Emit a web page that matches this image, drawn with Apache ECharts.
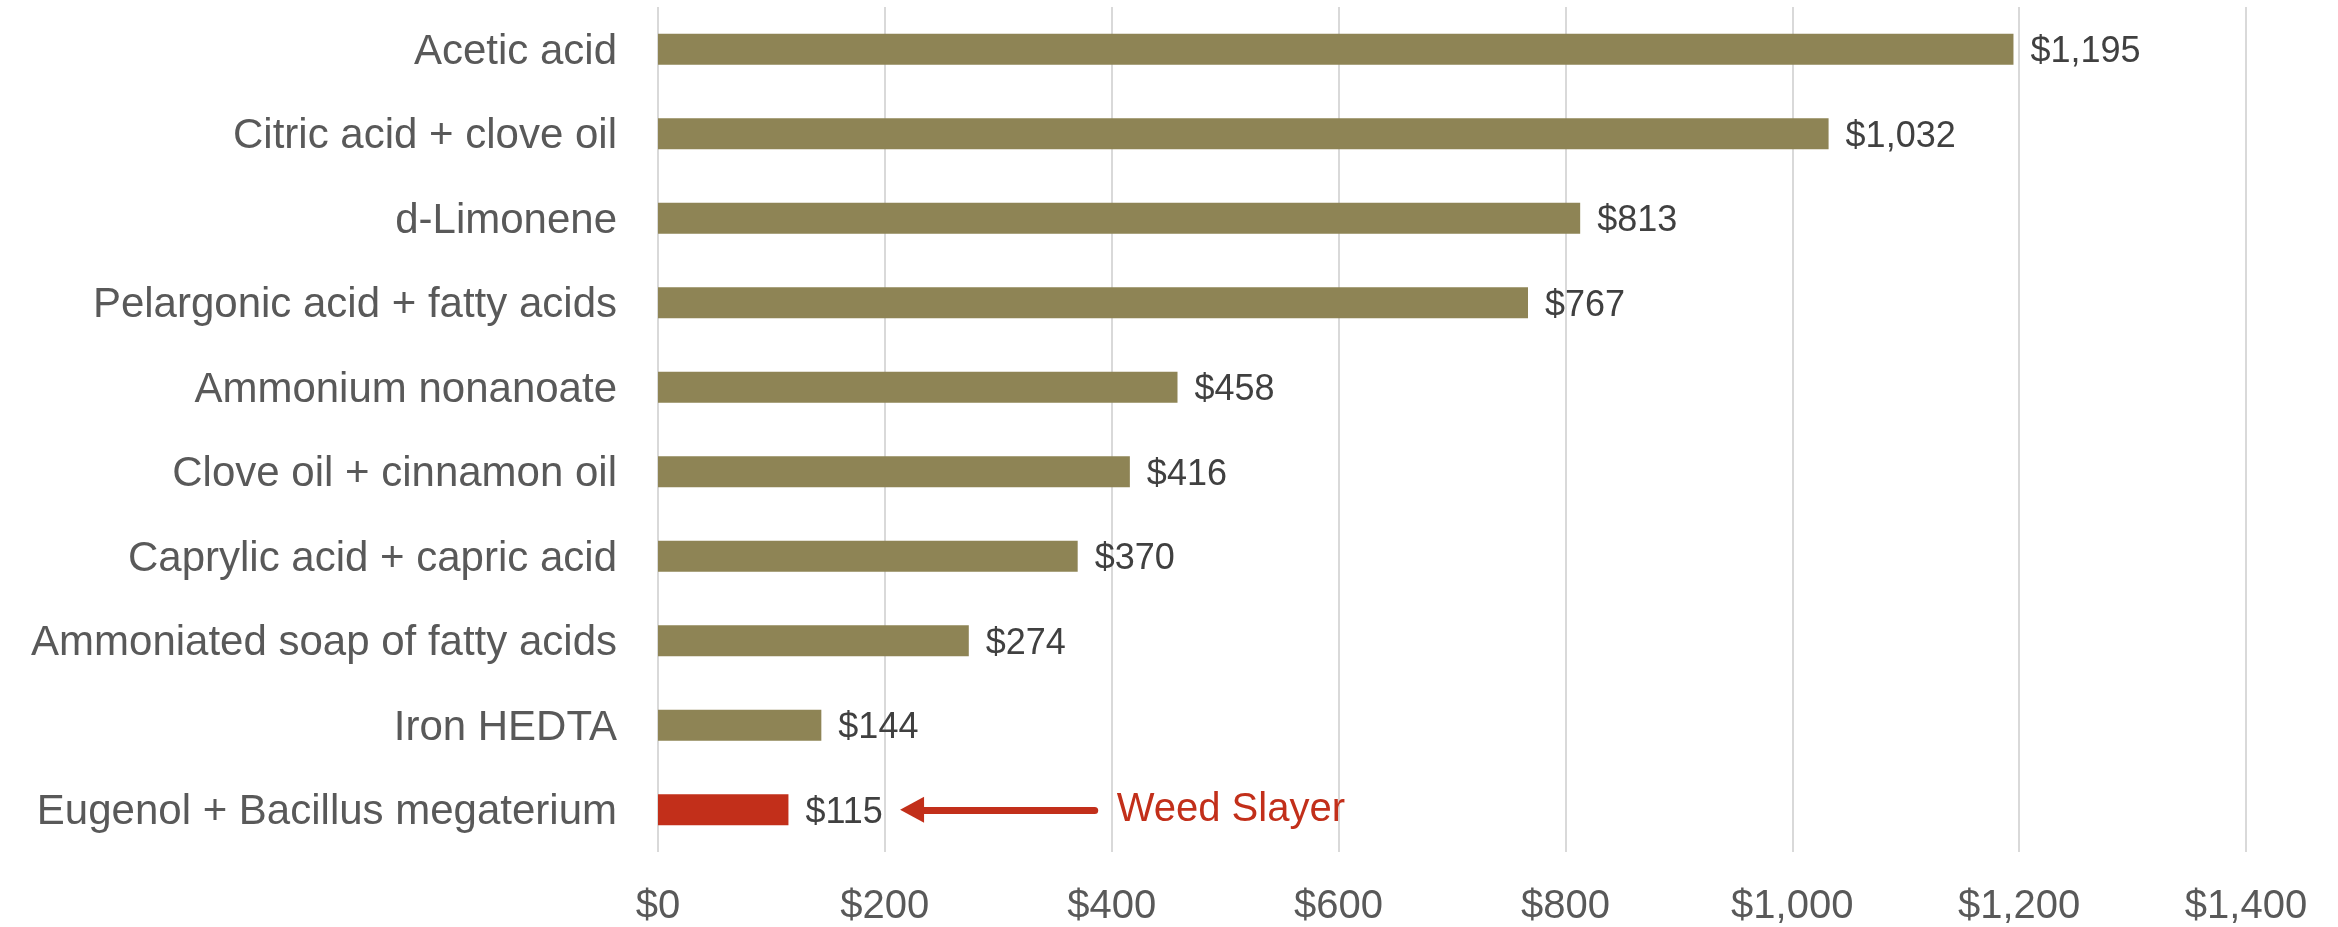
<!DOCTYPE html>
<html>
<head>
<meta charset="utf-8">
<script src="https://cdn.jsdelivr.net/npm/echarts@6/dist/echarts.min.js"></script>
<style>
html,body{margin:0;padding:0;background:#fff;}
#chart{width:2338px;height:927px;}
</style>
</head>
<body>
<div id="chart"></div>
<script>
const categories = [
  "Acetic acid",
  "Citric acid + clove oil",
  "d-Limonene",
  "Pelargonic acid + fatty acids",
  "Ammonium nonanoate",
  "Clove oil + cinnamon oil",
  "Caprylic acid + capric acid",
  "Ammoniated soap of fatty acids",
  "Iron HEDTA",
  "Eugenol + Bacillus megaterium"
];
const costs = [1195, 1032, 813, 767, 458, 416, 370, 274, 144, 115];
const highlightCategory = "Eugenol + Bacillus megaterium";
const annotationText = "Weed Slayer";
const arrowFrom = 385;
const arrowTo = 224;
const axisMin = 0, axisMax = 1400, axisStep = 200;

const FONT = '"Liberation Sans", Arial, sans-serif';
const OLIVE = '#8E8455';
const RED = '#C22F1A';

const fmt = v => '$' + Number(v).toLocaleString('en-US');

const chart = echarts.init(document.getElementById('chart'), null, {renderer: 'canvas'});
chart.setOption({
  animation: false,
  backgroundColor: '#ffffff',
  grid: {left: 658, right: 92, top: 7, bottom: 73, containLabel: false},
  xAxis: {
    type: 'value',
    min: axisMin, max: axisMax, interval: axisStep,
    axisLine: {show: false},
    axisTick: {show: false},
    splitLine: {show: true, lineStyle: {color: '#D9D9D9', width: 2}},
    axisLabel: {
      formatter: fmt, fontFamily: FONT, fontSize: 40, color: '#595959', margin: 35
    }
  },
  yAxis: {
    type: 'category',
    data: categories,
    inverse: true,
    axisLine: {show: false},
    axisTick: {show: false},
    splitLine: {show: false},
    axisLabel: {
      fontFamily: FONT, fontSize: 42, color: '#595959', margin: 41,
      lineHeight: 46, verticalAlign: 'top', padding: [-20, 0, 0, 0]
    }
  },
  series: [{
    type: 'bar',
    barWidth: 31,
    data: categories.map((c, i) => ({
      value: costs[i],
      itemStyle: {color: c === highlightCategory ? RED : OLIVE}
    })),
    label: {
      show: true, position: 'right', distance: 17, offset: [0, 3],
      formatter: p => fmt(p.value),
      fontFamily: FONT, fontSize: 36, color: '#404040'
    },
    markLine: {
      silent: true,
      symbol: ['none', 'triangle'],
      symbolSize: [26, 24],
      lineStyle: {color: RED, width: 7, type: 'solid', cap: 'round'},
      label: {
        show: true, position: 'start', distance: 22,
        formatter: annotationText,
        fontFamily: FONT, fontSize: 40, color: RED
      },
      data: [[
        {coord: [arrowFrom, highlightCategory]},
        {coord: [arrowTo, highlightCategory]}
      ]]
    }
  }]
});
</script>
</body>
</html>
